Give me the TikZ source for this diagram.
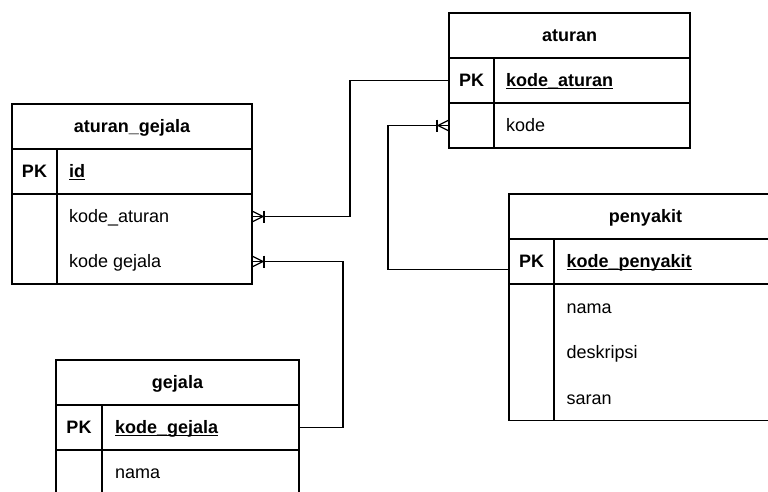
\documentclass[tikz,border=0pt]{standalone}
\usepackage{fontspec}
\setmainfont{Liberation Sans}
\usetikzlibrary{calc}

% underlined, bold primary-key field name
\newsavebox\keybox
\newcommand\keyname[1]{\sbox\keybox{\bfseries#1}\usebox\keybox\llap{\rule[-2.4pt]{\wd\keybox}{1.1pt}}}
\newcommand\tabfont{\fontsize{18pt}{21pt}\selectfont}

% crow's foot (one or many) at an entity border
% #1: point on the border, #2: +1 when the link leaves to the right, -1 to the left
\newcommand\manyend[2]{%
  \draw[conn] ($(#1)+(0,-5.5)$) -- ($(#1)+(#2*11,0)$) -- ($(#1)+(0,5.5)$);
  \draw[conn] ($(#1)+(#2*12,-6)$) -- ($(#1)+(#2*12,6)$);
}

\tikzset{
  every node/.style={inner sep=0pt, outer sep=0pt},
  tableline/.style={draw, line width=1.4pt},
  rowbox/.style={minimum height=45pt, anchor=north west},
  tabtitle/.style={anchor=base, font=\tabfont\bfseries},
  keytag/.style={anchor=base, font=\tabfont\bfseries},
  fieldtext/.style={anchor=base west, font=\tabfont},
  conn/.style={line width=1.2pt, line join=miter},
}

\begin{document}
\begin{tikzpicture}[x=1pt, y=-1pt]
\useasboundingbox (0,0) rectangle (768,491);
\fill[white] (0,0) rectangle (768,491);
\clip (0,0) rectangle (768,491);

% ---------- aturan ----------
\node[rowbox, minimum width=241pt] (aturan) at (449,13) {};
\node[tabtitle] (aturan-title) at ($(aturan.center)+(0,6.4)$) {aturan};
\node[rowbox, minimum width=241pt] (aturan-pk) at (aturan.south west) {};
\node[keytag] (aturan-pk-k) at ($(aturan-pk.west)+(22.5,6.4)$) {PK};
\node[fieldtext] (aturan-pk-f) at ($(aturan-pk.west)+(57,6.4)$) {\keyname{kode\_aturan}};
\node[rowbox, minimum width=241pt] (aturan-r1) at (aturan-pk.south west) {};
\node[fieldtext] (aturan-r1-f) at ($(aturan-r1.west)+(57,6.4)$) {kode};
\draw[tableline] (aturan.north west) rectangle (aturan-r1.south east);
\draw[tableline] (aturan-pk.north west) -- (aturan-pk.north east)
                 (aturan-pk.south west) -- (aturan-pk.south east);
\draw[tableline] ($(aturan-pk.north west)+(45,0)$) -- ($(aturan-r1.south west)+(45,0)$);

% ---------- aturan_gejala ----------
\node[rowbox, minimum width=240pt] (ag) at (12,104) {};
\node[tabtitle] (ag-title) at ($(ag.center)+(0,6.4)$) {aturan\_gejala};
\node[rowbox, minimum width=240pt] (ag-pk) at (ag.south west) {};
\node[keytag] (ag-pk-k) at ($(ag-pk.west)+(22.5,6.4)$) {PK};
\node[fieldtext] (ag-pk-f) at ($(ag-pk.west)+(57,6.4)$) {\keyname{id}};
\node[rowbox, minimum width=240pt] (ag-r1) at (ag-pk.south west) {};
\node[fieldtext] (ag-r1-f) at ($(ag-r1.west)+(57,6.4)$) {kode\_aturan};
\node[rowbox, minimum width=240pt] (ag-r2) at (ag-r1.south west) {};
\node[fieldtext] (ag-r2-f) at ($(ag-r2.west)+(57,6.4)$) {kode gejala};
\draw[tableline] (ag.north west) rectangle (ag-r2.south east);
\draw[tableline] (ag-pk.north west) -- (ag-pk.north east)
                 (ag-pk.south west) -- (ag-pk.south east);
\draw[tableline] ($(ag-pk.north west)+(45,0)$) -- ($(ag-r2.south west)+(45,0)$);

% ---------- gejala ----------
\node[rowbox, minimum width=243pt] (gejala) at (56,360) {};
\node[tabtitle] (gejala-title) at ($(gejala.center)+(0,6.4)$) {gejala};
\node[rowbox, minimum width=243pt] (gejala-pk) at (gejala.south west) {};
\node[keytag] (gejala-pk-k) at ($(gejala-pk.west)+(23,6.4)$) {PK};
\node[fieldtext] (gejala-pk-f) at ($(gejala-pk.west)+(59,6.4)$) {\keyname{kode\_gejala}};
\node[rowbox, minimum width=243pt] (gejala-r1) at (gejala-pk.south west) {};
\node[fieldtext] (gejala-r1-f) at ($(gejala-r1.west)+(59,6.4)$) {nama};
\draw[tableline] (gejala.north west) rectangle (gejala-r1.south east);
\draw[tableline] (gejala-pk.north west) -- (gejala-pk.north east)
                 (gejala-pk.south west) -- (gejala-pk.south east);
\draw[tableline] ($(gejala-pk.north west)+(46,0)$) -- ($(gejala-r1.south west)+(46,0)$);

% ---------- penyakit ----------
\node[rowbox, minimum width=273pt] (py) at (509,194) {};
\node[tabtitle] (py-title) at ($(py.center)+(0,6.4)$) {penyakit};
\node[rowbox, minimum width=273pt] (py-pk) at (py.south west) {};
\node[keytag] (py-pk-k) at ($(py-pk.west)+(22.5,6.4)$) {PK};
\node[fieldtext] (py-pk-f) at ($(py-pk.west)+(57.5,6.4)$) {\keyname{kode\_penyakit}};
\node[rowbox, minimum width=273pt, minimum height=45.5pt] (py-r1) at (py-pk.south west) {};
\node[fieldtext] (py-r1-f) at ($(py-r1.west)+(57.5,6.4)$) {nama};
\node[rowbox, minimum width=273pt, minimum height=45.5pt] (py-r2) at (py-r1.south west) {};
\node[fieldtext] (py-r2-f) at ($(py-r2.west)+(57.5,6.4)$) {deskripsi};
\node[rowbox, minimum width=273pt, minimum height=45.5pt] (py-r3) at (py-r2.south west) {};
\node[fieldtext] (py-r3-f) at ($(py-r3.west)+(57.5,6.4)$) {saran};
\draw[tableline] (py.north west) rectangle (py-r3.south east);
\draw[tableline] (py-pk.north west) -- (py-pk.north east)
                 (py-pk.south west) -- (py-pk.south east);
\draw[tableline] ($(py-pk.north west)+(45,0)$) -- ($(py-r3.south west)+(45,0)$);

% ---------- relationships ----------
\coordinate (bend1) at (350,0);
\draw[conn] (aturan-pk.west) -| (bend1 |- ag-r1.east) -- (ag-r1.east);
\manyend{ag-r1.east}{1}

\coordinate (bend2) at (343,0);
\draw[conn] (gejala-pk.east) -| (bend2 |- ag-r2.east) -- (ag-r2.east);
\manyend{ag-r2.east}{1}

\coordinate (bend3) at (388,0);
\coordinate (py-link) at ($(py-pk.west)+(0,8)$);
\draw[conn] (py-link) -| (bend3 |- aturan-r1.west) -- (aturan-r1.west);
\manyend{aturan-r1.west}{-1}

\end{tikzpicture}
\end{document}
